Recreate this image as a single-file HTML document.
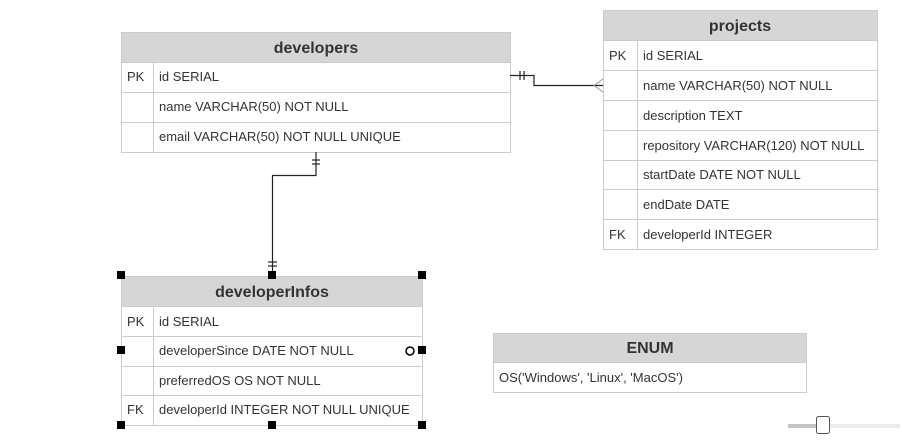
<!DOCTYPE html>
<html><head><meta charset="utf-8"><style>
html,body{margin:0;padding:0;background:#fff;width:902px;height:445px;overflow:hidden}
svg{display:block}
text{font-family:"Liberation Sans",Arial,sans-serif;fill:#333}
.h{font-size:16px;font-weight:bold;text-anchor:middle}
.r{font-size:13px}
</style></head><body>
<svg width="902" height="445" viewBox="0 0 902 445" xmlns="http://www.w3.org/2000/svg">
<g stroke="#cccccc" stroke-width="1" fill="none">
<!-- developers -->
<rect x="121.5" y="32.5" width="389" height="30" fill="#d6d6d6"/>
<rect x="121.5" y="62.5" width="389" height="90" fill="#fff"/>
<line x1="121.5" y1="92.5" x2="510.5" y2="92.5"/>
<line x1="121.5" y1="122.5" x2="510.5" y2="122.5"/>
<line x1="153.5" y1="62.5" x2="153.5" y2="152.5"/>
<!-- projects -->
<rect x="603.5" y="10.5" width="274" height="30" fill="#d6d6d6"/>
<rect x="603.5" y="40.5" width="274" height="209" fill="#fff"/>
<line x1="603.5" y1="70.5" x2="877.5" y2="70.5"/>
<line x1="603.5" y1="100.5" x2="877.5" y2="100.5"/>
<line x1="603.5" y1="130.5" x2="877.5" y2="130.5"/>
<line x1="603.5" y1="160.5" x2="877.5" y2="160.5"/>
<line x1="603.5" y1="189.5" x2="877.5" y2="189.5"/>
<line x1="603.5" y1="219.5" x2="877.5" y2="219.5"/>
<line x1="637.5" y1="40.5" x2="637.5" y2="249.5"/>
<!-- developerInfos -->
<rect x="121.5" y="276.5" width="301" height="30" fill="#d6d6d6"/>
<rect x="121.5" y="306.5" width="301" height="119" fill="#fff"/>
<line x1="121.5" y1="336.5" x2="422.5" y2="336.5"/>
<line x1="121.5" y1="366.5" x2="422.5" y2="366.5"/>
<line x1="121.5" y1="395.5" x2="422.5" y2="395.5"/>
<line x1="153.5" y1="306.5" x2="153.5" y2="425.5"/>
<!-- ENUM -->
<rect x="493.5" y="333.5" width="313" height="29" fill="#d6d6d6"/>
<rect x="493.5" y="362.5" width="313" height="30" fill="#fff"/>
</g>
<text class="h" x="316" y="53">developers</text>
<text class="r" x="127" y="81">PK</text>
<text class="r" x="159" y="81">id SERIAL</text>
<text class="r" x="159" y="111">name VARCHAR(50) NOT NULL</text>
<text class="r" x="159" y="141">email VARCHAR(50) NOT NULL UNIQUE</text>

<text class="h" x="740" y="31">projects</text>
<text class="r" x="609" y="60">PK</text>
<text class="r" x="643" y="60">id SERIAL</text>
<text class="r" x="643" y="90">name VARCHAR(50) NOT NULL</text>
<text class="r" x="643" y="120">description TEXT</text>
<text class="r" x="643" y="150">repository VARCHAR(120) NOT NULL</text>
<text class="r" x="643" y="179">startDate DATE NOT NULL</text>
<text class="r" x="643" y="209">endDate DATE</text>
<text class="r" x="609" y="239">FK</text>
<text class="r" x="643" y="239">developerId INTEGER</text>

<text class="h" x="272" y="297">developerInfos</text>
<text class="r" x="127" y="326">PK</text>
<text class="r" x="159" y="326">id SERIAL</text>
<text class="r" x="159" y="355">developerSince DATE NOT NULL</text>
<text class="r" x="159" y="385">preferredOS OS NOT NULL</text>
<text class="r" x="127" y="414">FK</text>
<text class="r" x="159" y="414">developerId INTEGER NOT NULL UNIQUE</text>

<text class="h" x="650" y="353">ENUM</text>
<text class="r" x="499" y="382">OS('Windows', 'Linux', 'MacOS')</text>

<!-- connector developers -> projects -->
<g stroke="#222" stroke-width="1.2" fill="none">
<polyline points="510,75.5 534,75.5 534,85.5 603,85.5"/>
<line x1="520" y1="71" x2="520" y2="80"/>
<line x1="524" y1="71" x2="524" y2="80"/>
</g>
<g stroke="#999" stroke-width="1" fill="none">
<polyline points="603,79 594,85.5 603,92"/>
</g>
<!-- connector developers -> developerInfos -->
<g stroke="#222" stroke-width="1.2" fill="none">
<polyline points="316,152 316,175.5 272.5,175.5 272.5,276"/>
<line x1="312" y1="160" x2="320" y2="160"/>
<line x1="312" y1="164" x2="320" y2="164"/>
<line x1="268" y1="262" x2="277" y2="262"/>
<line x1="268" y1="266" x2="277" y2="266"/>
</g>
<!-- selection handles -->
<g fill="#000">
<rect x="117" y="271" width="8" height="8"/>
<rect x="268" y="271" width="8" height="8"/>
<rect x="418" y="271" width="8" height="8"/>
<rect x="117" y="346" width="8" height="8"/>
<rect x="418" y="346" width="8" height="8"/>
<rect x="117" y="421" width="8" height="8"/>
<rect x="268" y="421" width="8" height="8"/>
<rect x="418" y="421" width="8" height="8"/>
</g>
<circle cx="410" cy="351" r="4" fill="#fff" stroke="#000" stroke-width="1.5"/>
<!-- slider -->
<rect x="788" y="424" width="112" height="4" fill="#ececec"/>
<rect x="788" y="424" width="30" height="4" fill="#c4c4c4"/>
<rect x="816.5" y="416.5" width="13" height="17" rx="2" fill="#fff" stroke="#555" stroke-width="1"/>
</svg>
</body></html>
